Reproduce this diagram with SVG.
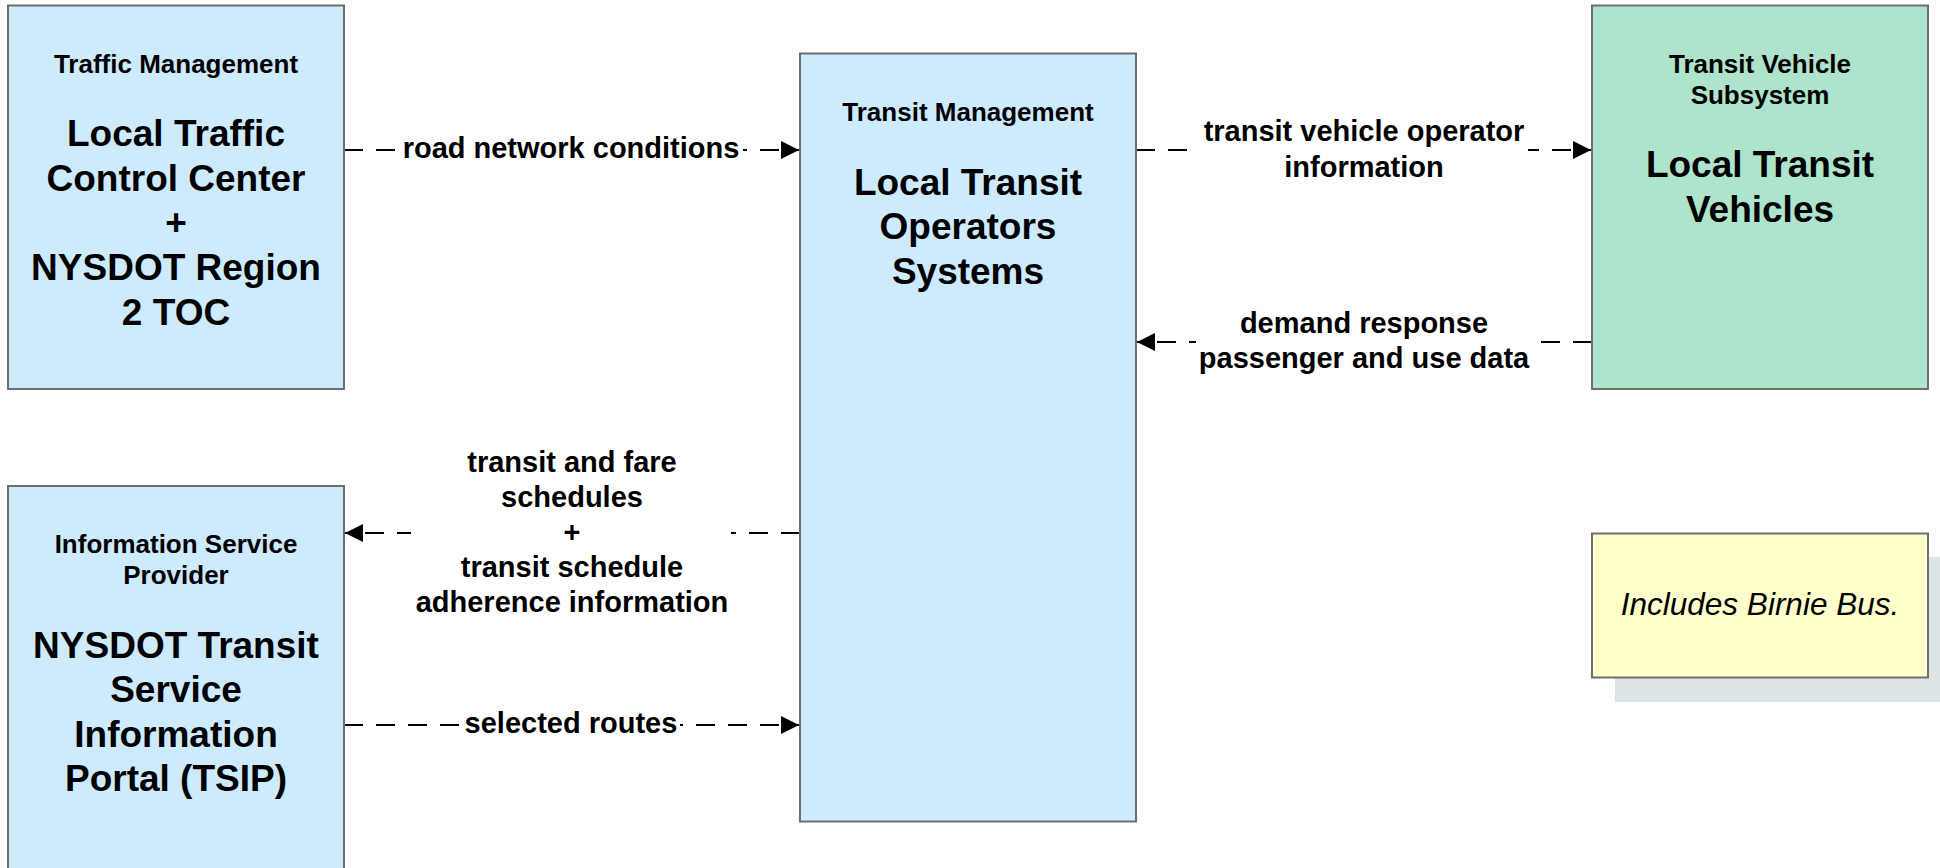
<svg xmlns="http://www.w3.org/2000/svg" width="1940" height="868" viewBox="0 0 1940 868">
<style>
.box{stroke:#6f6f6f;stroke-width:2}
.blue{fill:#cdebfd}
.green{fill:#aee4cb}
.note{fill:#ffffcc}
.shadow{fill:#dbe4e6}
text{font-family:"Liberation Sans",Arial,sans-serif;fill:#000;text-anchor:middle}
.sm{font-size:26px;font-weight:bold}
.big{font-size:37px;font-weight:bold}
.lbl{font-size:29px;font-weight:bold}
.it{font-size:31.5px;font-style:italic}
.conn{stroke:#000;stroke-width:2;fill:none;stroke-dasharray:19 13}
.bg{fill:#fff}
</style>
<defs>
<marker id="arr" markerUnits="userSpaceOnUse" markerWidth="19" markerHeight="19" refX="18" refY="9" orient="auto">
<path d="M0,0 L18,9 L0,18 z" fill="#000"/>
</marker>
</defs>
<rect width="1940" height="868" fill="#fff"/>

<g id="connectors">
<path class="conn" d="M344,150 H799" marker-end="url(#arr)"/>
<rect class="bg" x="399" y="134" width="344" height="32"/>
<text class="lbl" x="571" y="158">road network conditions</text>

<path class="conn" d="M1136,150 H1591" marker-end="url(#arr)"/>
<rect class="bg" x="1199" y="118" width="329" height="64"/>
<text class="lbl" x="1364" y="141">transit vehicle operator</text>
<text class="lbl" x="1364" y="177">information</text>

<path class="conn" d="M1592,342 H1137" marker-end="url(#arr)"/>
<rect class="bg" x="1196" y="310" width="340" height="64"/>
<text class="lbl" x="1364" y="333">demand response</text>
<text class="lbl" x="1364" y="368">passenger and use data</text>

<path class="conn" d="M800,533 H345" marker-end="url(#arr)"/>
<rect class="bg" x="411" y="450" width="320" height="170"/>
<text class="lbl" x="572" y="472">transit and fare</text>
<text class="lbl" x="572" y="507">schedules</text>
<text class="lbl" x="572" y="542">+</text>
<text class="lbl" x="572" y="577">transit schedule</text>
<text class="lbl" x="572" y="612">adherence information</text>

<path class="conn" d="M344,725 H799" marker-end="url(#arr)"/>
<rect class="bg" x="462" y="710" width="218" height="30"/>
<text class="lbl" x="571" y="733">selected routes</text>
</g>

<g id="traffic-management">
<rect class="box blue" x="8" y="5.5" width="336" height="383.5"/>
<text class="sm" x="176" y="73">Traffic Management</text>
<text class="big" x="176" y="146">Local Traffic</text>
<text class="big" x="176" y="190.5">Control Center</text>
<text class="big" x="176" y="235">+</text>
<text class="big" x="176" y="280">NYSDOT Region</text>
<text class="big" x="176" y="324.5">2 TOC</text>
</g>

<g id="transit-management">
<rect class="box blue" x="800" y="53.5" width="336" height="768"/>
<text class="sm" x="968" y="121">Transit Management</text>
<text class="big" x="968" y="194.5">Local Transit</text>
<text class="big" x="968" y="239">Operators</text>
<text class="big" x="968" y="283.5">Systems</text>
</g>

<g id="transit-vehicle">
<rect class="box green" x="1592" y="5.5" width="336" height="383.5"/>
<text class="sm" x="1760" y="73">Transit Vehicle</text>
<text class="sm" x="1760" y="104">Subsystem</text>
<text class="big" x="1760" y="177">Local Transit</text>
<text class="big" x="1760" y="221.5">Vehicles</text>
</g>

<g id="information-service-provider">
<rect class="box blue" x="8" y="486" width="336" height="400"/>
<text class="sm" x="176" y="553">Information Service</text>
<text class="sm" x="176" y="584">Provider</text>
<text class="big" x="176" y="657.5">NYSDOT Transit</text>
<text class="big" x="176" y="702">Service</text>
<text class="big" x="176" y="746.5">Information</text>
<text class="big" x="176" y="791">Portal (TSIP)</text>
</g>

<g id="note">
<rect class="shadow" x="1615" y="557" width="336" height="145"/>
<rect class="box note" x="1592" y="533.5" width="336" height="144"/>
<text class="it" x="1760" y="615">Includes Birnie Bus.</text>
</g>
</svg>
